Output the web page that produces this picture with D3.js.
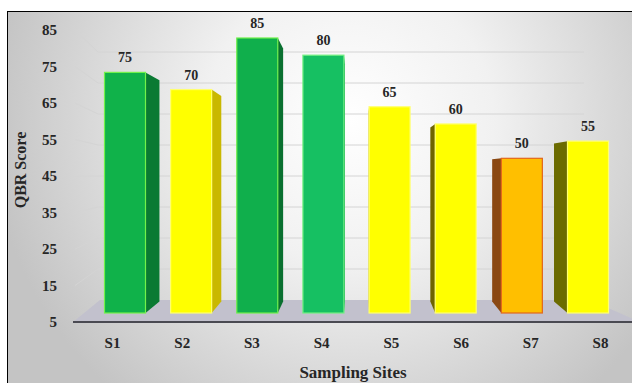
<!DOCTYPE html>
<html>
<head>
<meta charset="utf-8">
<script src="https://cdn.jsdelivr.net/npm/d3@7"></script>
<style>
  body { margin: 0; background: #fff; }
  text { font-family: "Liberation Serif", "Times New Roman", serif; font-weight: bold; }
</style>
</head>
<body>
<div id="chart"></div>
<script>
// data
const sites = ["S1", "S2", "S3", "S4", "S5", "S6", "S7", "S8"];
const scores = [75, 70, 85, 80, 65, 60, 50, 55];
const yTicks = [5, 15, 25, 35, 45, 55, 65, 75, 85];

// bar colours (front, side, edge)
const frontColors = ["#10b24a", "#ffff00", "#10af4c", "#16c062", "#ffff00", "#ffff00", "#ffbf00", "#ffff00"];
const sideColors = ["#0a7a33", "#c9b800", "#0a7030", "#10a050", "#b8a800", "#6f6400", "#8a4812", "#6b6b00"];
const edgeColors = ["#72f24a", "#ffff70", "#6ef04a", "#70f080", "#ffff70", "#ffff70", "#e2661a", "#ffff70"];

const width = 632, height = 383;

const svg = d3.select("#chart")
    .append("svg")
    .attr("width", width)
    .attr("height", height);

// background gradient
const defs = svg.append("defs");
const bg = defs.append("radialGradient")
    .attr("id", "bg")
    .attr("gradientUnits", "userSpaceOnUse")
    .attr("cx", 350).attr("cy", 120).attr("r", 360);
bg.append("stop").attr("offset", "0%").attr("stop-color", "#ffffff");
bg.append("stop").attr("offset", "40%").attr("stop-color", "#f1f1f1");
bg.append("stop").attr("offset", "100%").attr("stop-color", "#c4c4c4");

svg.append("rect")
    .attr("x", 7.5).attr("y", 11.5)
    .attr("width", 640).attr("height", 380)
    .attr("fill", "url(#bg)")
    .attr("stroke", "#000")
    .attr("stroke-width", 1);

// scales: front axis, back wall, bar fronts
const yAxisScale = d3.scaleLinear().domain([5, 85]).range([322, 30]);
const yWall = d3.scaleLinear().domain([5, 85]).range([300, 52]);
const yBar = d3.scaleLinear().domain([5, 85]).range([313, 38]);
const xLabel = d3.scalePoint().domain(sites).range([112, 600]);
const xBar = d3.scalePoint().domain(sites).range([125, 588]);
const barW = 41;

// vanishing point for the 3d look
const vx = 360, vy = 170, tx = 0.065, ty = 0.08;

// floor
svg.append("path")
    .attr("d", "M73,322 L640,322 L590,300 L100,300 Z")
    .attr("fill", "#c2c1cd");

// gridlines on side wall + back wall
svg.append("g")
    .selectAll("path")
    .data(yTicks.slice(1))
    .join("path")
    .attr("d", d => `M75,${yAxisScale(d)} L98,${yWall(d)} L584,${yWall(d)}`)
    .attr("fill", "none")
    .attr("stroke", "#d4d4d4")
    .attr("stroke-width", 1);

// x axis line
svg.append("line")
    .attr("x1", 73).attr("x2", 640)
    .attr("y1", 322).attr("y2", 322)
    .attr("stroke", "#4a4a52")
    .attr("stroke-width", 2);

// bars
const bars = svg.append("g")
    .selectAll("g")
    .data(sites.map((s, i) => ({site: s, value: scores[i], i: i})))
    .join("g");

bars.append("path")
    .attr("d", d => {
        const x0 = xBar(d.site) - barW / 2, x1 = xBar(d.site) + barW / 2;
        const top = yBar(d.value), bot = yBar(5);
        const xe = x1 < vx ? x1 : (x0 > vx ? x0 : null);
        if (xe === null) return "";
        const xb = xe + tx * (vx - xe);
        const tb = top + ty * (vy - top), bb = bot + ty * (vy - bot);
        return `M${xe},${top} L${xb},${tb} L${xb},${bb} L${xe},${bot} Z`;
    })
    .attr("fill", d => sideColors[d.i]);

bars.append("rect")
    .attr("x", d => xBar(d.site) - barW / 2)
    .attr("y", d => yBar(d.value))
    .attr("width", barW)
    .attr("height", d => yBar(5) - yBar(d.value))
    .attr("fill", d => frontColors[d.i])
    .attr("stroke", d => edgeColors[d.i])
    .attr("stroke-width", 1.2);

// value labels
bars.append("text")
    .attr("x", d => xBar(d.site))
    .attr("y", d => yBar(d.value) - 10)
    .attr("text-anchor", "middle")
    .style("font-size", "14px")
    .style("fill", "#262626")
    .text(d => d.value);

// y axis labels
const yAxis = d3.axisLeft(yAxisScale).tickValues(yTicks).tickSize(0).tickPadding(3);
const yG = svg.append("g")
    .attr("transform", "translate(60,0)")
    .call(yAxis);
yG.select(".domain").remove();
yG.selectAll("text")
    .style("font-size", "15px")
    .style("font-family", "Liberation Serif")
    .style("fill", "#262626");

// x axis labels
const xAxis = d3.axisBottom(xLabel).tickSize(0).tickPadding(15);
const xG = svg.append("g")
    .attr("transform", "translate(0,322)")
    .call(xAxis);
xG.select(".domain").remove();
xG.selectAll("text")
    .style("font-size", "15px")
    .style("font-family", "Liberation Serif")
    .style("fill", "#262626");

// axis titles
svg.append("text")
    .attr("x", 353).attr("y", 378)
    .attr("text-anchor", "middle")
    .style("font-size", "17px")
    .style("fill", "#262626")
    .text("Sampling Sites");

svg.append("text")
    .attr("transform", "translate(26,170) rotate(-90)")
    .attr("text-anchor", "middle")
    .style("font-size", "16px")
    .style("fill", "#262626")
    .text("QBR Score");
</script>
</body>
</html>
